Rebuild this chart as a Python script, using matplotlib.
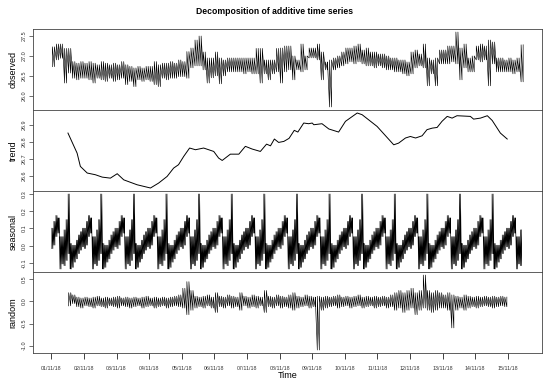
import numpy as np
import matplotlib
matplotlib.use("Agg")
import matplotlib.pyplot as plt

plt.rcParams['font.family'] = ['Liberation Sans', 'DejaVu Sans']

# time axis: days since 01/11/18
day_labels = ["%02d/11/18" % d for d in range(1, 16)]

# observed: low/high envelope per 3-hour bin, starting at day 0
obs_step = 0.125
obs_lo = [26.73, 26.90, 26.94, 26.32, 26.57, 26.44, 26.40, 26.44,
          26.44, 26.40, 26.32, 26.44, 26.40, 26.36, 26.44, 26.36,
          26.40, 26.44, 26.28, 26.36, 26.23, 26.40, 26.36, 26.40,
          26.36, 26.28, 26.23, 26.44, 26.40, 26.44, 26.44, 26.48,
          26.48, 26.44, 26.70, 26.75, 26.75, 26.65, 26.32, 26.45,
          26.50, 26.30, 26.50, 26.60, 26.60, 26.60, 26.60, 26.55,
          26.60, 26.55, 26.55, 26.32, 26.55, 26.40, 26.55, 26.60,
          26.32, 26.60, 26.65, 26.40, 26.65, 26.60, 26.65, 26.95,
          26.95, 26.90, 26.40, 26.65, 25.72, 26.65, 26.70, 26.75,
          26.80, 26.85, 26.80, 26.85, 26.80, 26.75, 26.75, 26.70,
          26.75, 26.70, 26.65, 26.65, 26.60, 26.60, 26.55, 26.50,
          26.55, 26.70, 26.75, 26.70, 26.25, 26.55, 26.25, 26.80,
          26.80, 26.80, 26.85, 26.80, 26.40, 26.70, 26.60, 26.60,
          26.90, 26.85, 26.90, 26.25, 26.80, 26.60, 26.60, 26.60,
          26.60, 26.55, 26.60, 26.35]
obs_hi = [27.23, 27.30, 27.30, 27.19, 27.19, 26.86, 26.82, 26.86,
          26.82, 26.86, 26.82, 26.78, 26.86, 26.82, 26.78, 26.82,
          26.78, 26.86, 26.78, 26.74, 26.70, 26.74, 26.70, 26.74,
          26.74, 26.86, 26.78, 26.82, 26.82, 26.86, 26.82, 26.90,
          26.86, 27.11, 27.20, 27.40, 27.50, 27.10, 26.95, 26.95,
          27.10, 26.95, 26.90, 26.95, 26.95, 26.95, 26.95, 26.95,
          26.95, 26.95, 27.19, 27.19, 26.90, 26.90, 26.90, 27.19,
          27.20, 27.25, 27.25, 27.00, 26.90, 27.30, 27.00, 27.20,
          27.20, 27.30, 27.10, 26.85, 26.90, 26.95, 27.00, 27.10,
          27.20, 27.20, 27.25, 27.30, 27.15, 27.20, 27.10, 27.10,
          27.05, 27.05, 27.00, 26.95, 26.95, 26.90, 26.90, 26.85,
          27.10, 27.15, 27.05, 27.30, 26.95, 26.90, 26.95, 27.15,
          27.15, 27.25, 27.25, 27.60, 27.20, 27.30, 26.95, 27.00,
          27.25, 27.30, 27.25, 27.40, 27.35, 26.95, 26.95, 26.90,
          26.95, 26.90, 26.95, 27.28]

# trend: smooth line (day, value)
trend_days = [0.51, 0.79, 0.89, 1.10, 1.35, 1.56, 1.81, 2.02, 2.22, 2.63,
              3.04, 3.29, 3.55, 3.75, 3.90, 4.06, 4.24, 4.42, 4.67, 4.98,
              5.13, 5.24, 5.49, 5.75, 5.95, 6.16, 6.41, 6.60, 6.72, 6.84,
              6.97, 7.13, 7.29, 7.45, 7.56, 7.74, 7.89, 8.00, 8.05, 8.30,
              8.51, 8.81, 9.02, 9.38, 9.53, 9.99, 10.50, 10.65, 10.86, 11.01,
              11.17, 11.37, 11.52, 11.68, 11.83, 11.98, 12.14, 12.29, 12.44, 12.85,
              12.95, 13.16, 13.37, 13.52, 13.77, 13.98]
trend_vals = [26.851, 26.733, 26.655, 26.616, 26.606, 26.592, 26.586, 26.612, 26.576, 26.547,
              26.528, 26.557, 26.596, 26.645, 26.665, 26.714, 26.763, 26.753, 26.763, 26.743,
              26.704, 26.690, 26.727, 26.727, 26.773, 26.757, 26.743, 26.786, 26.776, 26.816,
              26.796, 26.802, 26.820, 26.867, 26.857, 26.910, 26.906, 26.910, 26.900, 26.906,
              26.875, 26.857, 26.920, 26.969, 26.959, 26.890, 26.782, 26.792, 26.822, 26.831,
              26.822, 26.835, 26.871, 26.880, 26.884, 26.920, 26.949, 26.939, 26.953, 26.949,
              26.933, 26.939, 26.953, 26.925, 26.851, 26.816]

# seasonal: one daily period, low/high per 1.5-hour bin
seas_step = 1.0 / 16
seas_lo = [-0.016, 0.004, 0.053, 0.073, -0.133, -0.104, -0.114, -0.084,
           -0.045, -0.133, -0.124, -0.094, -0.075, -0.045, -0.025, -0.006]
seas_hi = [0.102, 0.141, 0.175, 0.161, 0.053, 0.053, 0.092, 0.151,
           0.298, 0.014, 0.004, 0.004, 0.033, 0.063, 0.082, 0.102]
seas_periods = 14.47

# random: low/high per 3-hour bin, starting at day 0.5
rand_start = 0.5
rand_step = 0.125
rand_lo = [-0.10, -0.05, -0.12, -0.15, -0.10, -0.12, -0.15, -0.10,
           -0.12, -0.15, -0.10, -0.12, -0.15, -0.10, -0.12, -0.15,
           -0.12, -0.10, -0.15, -0.12, -0.10, -0.15, -0.12, -0.10,
           -0.15, -0.12, -0.10, -0.12, -0.15, -0.30, -0.20, -0.15,
           -0.12, -0.15, -0.10, -0.15, -0.25, -0.12, -0.15, -0.10,
           -0.15, -0.12, -0.20, -0.10, -0.15, -0.12, -0.15, -0.10,
           -0.25, -0.12, -0.15, -0.10, -0.15, -0.12, -0.15, -0.20,
           -0.15, -0.12, -0.10, -0.15, -0.12, -1.10, -0.20, -0.15,
           -0.12, -0.10, -0.15, -0.12, -0.10, -0.15, -0.12, -0.10,
           -0.15, -0.12, -0.10, -0.15, -0.12, -0.10, -0.15, -0.12,
           -0.20, -0.15, -0.25, -0.20, -0.15, -0.30, -0.20, -0.15,
           -0.20, -0.25, -0.20, -0.15, -0.15, -0.20, -0.60, -0.20,
           -0.15, -0.20, -0.15, -0.12, -0.15, -0.12, -0.10, -0.12,
           -0.15, -0.12, -0.10, -0.12]
rand_hi = [0.20, 0.15, 0.10, 0.08, 0.10, 0.08, 0.10, 0.12,
           0.08, 0.10, 0.08, 0.10, 0.12, 0.08, 0.10, 0.08,
           0.10, 0.08, 0.10, 0.12, 0.08, 0.10, 0.08, 0.10,
           0.08, 0.10, 0.12, 0.15, 0.30, 0.45, 0.25, 0.12,
           0.10, 0.12, 0.15, 0.10, 0.20, 0.12, 0.10, 0.15,
           0.12, 0.10, 0.20, 0.12, 0.10, 0.15, 0.12, 0.10,
           0.25, 0.12, 0.10, 0.15, 0.12, 0.10, 0.15, 0.20,
           0.12, 0.10, 0.15, 0.12, 0.10, 0.12, 0.10, 0.12,
           0.10, 0.12, 0.15, 0.10, 0.12, 0.10, 0.12, 0.15,
           0.10, 0.12, 0.10, 0.12, 0.10, 0.12, 0.10, 0.15,
           0.20, 0.25, 0.20, 0.25, 0.30, 0.20, 0.25, 0.60,
           0.25, 0.20, 0.25, 0.20, 0.15, 0.20, 0.15, 0.12,
           0.10, 0.15, 0.12, 0.10, 0.12, 0.10, 0.12, 0.10,
           0.12, 0.10, 0.12, 0.10]


def zigzag(start, step, lo, hi, strokes):
    # several low->high strokes inside every bin, so the trace reads as a band
    lo = np.repeat(np.asarray(lo, float), strokes)
    hi = np.repeat(np.asarray(hi, float), strokes)
    n = len(lo)
    sub = step / strokes
    c = start + (np.arange(n) + 0.5) * sub
    x = np.repeat(c, 2)
    y = np.empty(2 * n)
    y[0::2] = lo
    y[1::2] = hi
    return x, y


obs_x, obs_y = zigzag(0.0, obs_step, obs_lo, obs_hi, 2)
rnd_x, rnd_y = zigzag(rand_start, rand_step, rand_lo, rand_hi, 2)
n_seas = int(seas_periods / seas_step)
seas_x, seas_y = zigzag(0.0, seas_step,
                        np.resize(seas_lo, n_seas), np.resize(seas_hi, n_seas), 2)

W, H = 550, 383
fig = plt.figure(figsize=(W / 100, H / 100), dpi=100)
left, right, top, bottom = 33, 542, 29, 353
ph = (bottom - top) / 4

panels = [
    ("observed", obs_x, obs_y, [26.0, 26.5, 27.0, 27.5], ["26.0", "26.5", "27.0", "27.5"]),
    ("trend", np.array(trend_days), np.array(trend_vals), [26.6, 26.7, 26.8, 26.9], ["26.6", "26.7", "26.8", "26.9"]),
    ("seasonal", seas_x, seas_y, [-0.1, 0.0, 0.1, 0.2, 0.3], ["-0.1", "0.0", "0.1", "0.2", "0.3"]),
    ("random", rnd_x, rnd_y, [-1.0, -0.5, 0.0, 0.5], ["-1.0", "-0.5", "0.0", "0.5"]),
]

axes = []
for i, (name, x, y, yt, ytl) in enumerate(panels):
    y0 = 1 - (top + (i + 1) * ph) / H
    ax = fig.add_axes([left / W, y0, (right - left) / W, ph / H],
                      sharex=axes[0] if axes else None)
    lw = 0.7 if name == "trend" else 0.45
    ax.plot(x, y, color='black', lw=lw)
    ax.margins(x=0.04, y=0.04)
    ax.set_yticks(yt)
    ax.set_yticklabels(ytl, rotation=90, va='center', fontsize=4, color='#333333')
    ax.tick_params(axis='y', length=3, width=0.5, pad=1.5, color='#333333')
    ax.set_ylabel(name, fontsize=6.5, labelpad=3)
    for s in ax.spines.values():
        s.set_linewidth(0.6)
        s.set_color('#444444')
    axes.append(ax)

for ax in axes[:-1]:
    ax.tick_params(axis='x', bottom=False, labelbottom=False)

axb = axes[-1]
axb.set_xticks(range(len(day_labels)))
axb.set_xticklabels(day_labels, fontsize=3.8, color='#333333')
axb.tick_params(axis='x', length=4, width=0.6, pad=5, color='#222222')
axb.set_xlabel("Time", fontsize=6.5, labelpad=0.5)

fig.text(0.5, 1 - 12 / H, "Decomposition of additive time series",
         ha='center', va='center', fontsize=6.2, fontweight='bold')

fig.savefig("out.png", dpi=100)
